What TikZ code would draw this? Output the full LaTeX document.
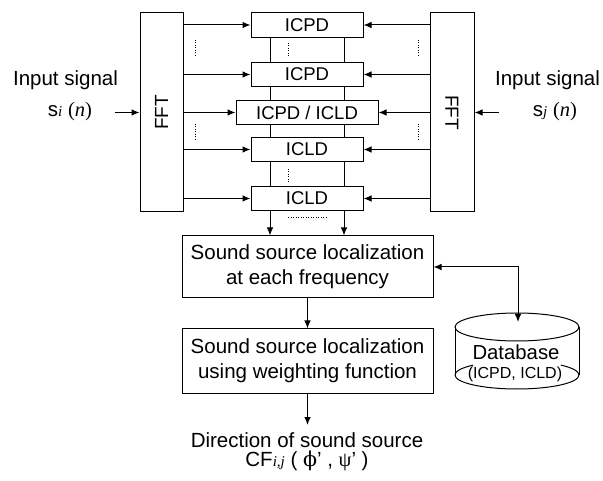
\documentclass[tikz,border=0pt]{standalone}
\usepackage{fontspec}
\usepackage{graphicx}
\setmainfont{Liberation Sans}
\newfontfamily\serif{Liberation Serif}
\newfontfamily\dvserif{DejaVu Serif}
\usetikzlibrary{arrows.meta}
\begin{document}
\begin{tikzpicture}[x=1pt,y=-1pt,
  every node/.style={inner sep=0pt},
  box/.style={draw, line width=1pt, fill=white, minimum width=112pt, minimum height=24.5pt, font=\fontsize{18.5}{20}\selectfont},
  bigbox/.style={draw, line width=1pt, fill=white, minimum width=251pt, align=center, font=\fontsize{20.5}{25}\selectfont},
  fftbox/.style={draw, line width=1pt, minimum height=199pt, font=\fontsize{19}{19}\selectfont},
  arr/.style={line width=1pt, -{Latex[length=8pt,width=6.5pt]}},
  biarr/.style={line width=1pt, {Latex[length=8pt,width=6.5pt]}-{Latex[length=8pt,width=6.5pt]}},
  ln/.style={line width=1pt},
  dots/.style={line width=1pt, dash pattern=on 1pt off 1.5pt},
  lbl/.style={font=\fontsize{20.5}{24}\selectfont}
]
\useasboundingbox (0,0) rectangle (603,481);

% FFT blocks
\node[fftbox, minimum width=43pt] (fL) at (161.5,112.5) {\rotatebox{90}{FFT}};
\node[fftbox, minimum width=44pt] (fR) at (452,112.5) {\rotatebox{-90}{FFT}};

% ICPD / ICLD boxes
\node[box] (b1) at (307,25) {ICPD};
\node[box] (b2) at (307,74.5) {ICPD};
\node[box, minimum width=142pt] (b3) at (307,112.5) {ICPD / ICLD};
\node[box] (b4) at (307,149.5) {ICLD};
\node[box] (b5) at (307,198.5) {ICLD};

% localization boxes
\node[bigbox, minimum height=62pt] (ss1) at (307.5,267) {Sound source localization\\at each frequency};
\node[bigbox, minimum height=64pt] (ss2) at (307.5,361) {Sound source localization\\using weighting function};

% vertical links between the boxes
\coordinate (vl) at (270,0);
\coordinate (vr) at (344,0);
\foreach \a/\b in {b1/b2,b2/b3,b3/b4,b4/b5}{
  \draw[ln] (\a.south -| vl) -- (\b.north -| vl);
  \draw[ln] (\a.south -| vr) -- (\b.north -| vr);
}
\draw[arr] (b5.south -| vl) -- (ss1.north -| vl);
\draw[arr] (b5.south -| vr) -- (ss1.north -| vr);

% horizontal arrows from the FFT blocks
\foreach \b in {b1,b2,b3,b4,b5}{
  \draw[arr] (fL.east |- \b.west) -- (\b.west);
  \draw[arr] (fR.west |- \b.east) -- (\b.east);
}

% dotted marks
\draw[dots] (195,40) -- (195,57);
\draw[dots] (195,124) -- (195,140);
\draw[dots] (418,40) -- (418,57);
\draw[dots] (418,124) -- (418,140);
\draw[dots] (288,43) -- (288,57);
\draw[dots] (288,169) -- (288,182);
\draw[dots] (288,218) -- (326,218);

% inputs
\node[lbl] (inL) at (65.5,80) {Input signal};
\node[lbl] (sL) at (70,112) {s{\serif\itshape\fontsize{15}{15}\selectfont i} {\serif(\textit{n})}};
\coordinate (aL) at (115,112.5);
\draw[arr] (aL) -- (fL.west);
\node[lbl] (inR) at (547.5,80) {Input signal};
\node[lbl] (sR) at (555,112) {s{\serif\itshape\fontsize{15}{15}\selectfont j} {\serif(\textit{n})}};
\coordinate (aR) at (499,112.5);
\draw[arr] (aR) -- (fR.east);

% output
\draw[arr] (ss1.south) -- (ss2.north);
\coordinate (out) at (307.5,425);
\draw[arr] (ss2.south) -- (out);
\node[font=\fontsize{20.5}{19.5}\selectfont, align=center] (dir) at (307,452)
  {Direction of sound source\\CF{\serif\itshape\fontsize{15}{15}\selectfont i,j} ( {\dvserif ϕ}’ , {\serif ψ}’ )};

% database cylinder
\coordinate (dbc1) at (517,327);
\draw[ln] (dbc1) ellipse [x radius=62, y radius=14];
\draw[ln] (455,327) -- (455,375);
\draw[ln] (579,327) -- (579,375);
\draw[ln] (455,375) arc[start angle=180, end angle=0, x radius=62, y radius=14];
\draw[ln] (455,375) arc[start angle=180, end angle=225, x radius=62, y radius=14];
\draw[ln] (579,375) arc[start angle=0, end angle=-45, x radius=62, y radius=14];
\node[font=\fontsize{20.3}{20}\selectfont] (db) at (516,352) {Database};
\node[font=\fontsize{16}{16}\selectfont] (dbs) at (515,374) {(ICPD, ICLD)};
\coordinate (dbin) at (518,322);
\draw[biarr] (ss1.east) -| (dbin);
\end{tikzpicture}
\end{document}
